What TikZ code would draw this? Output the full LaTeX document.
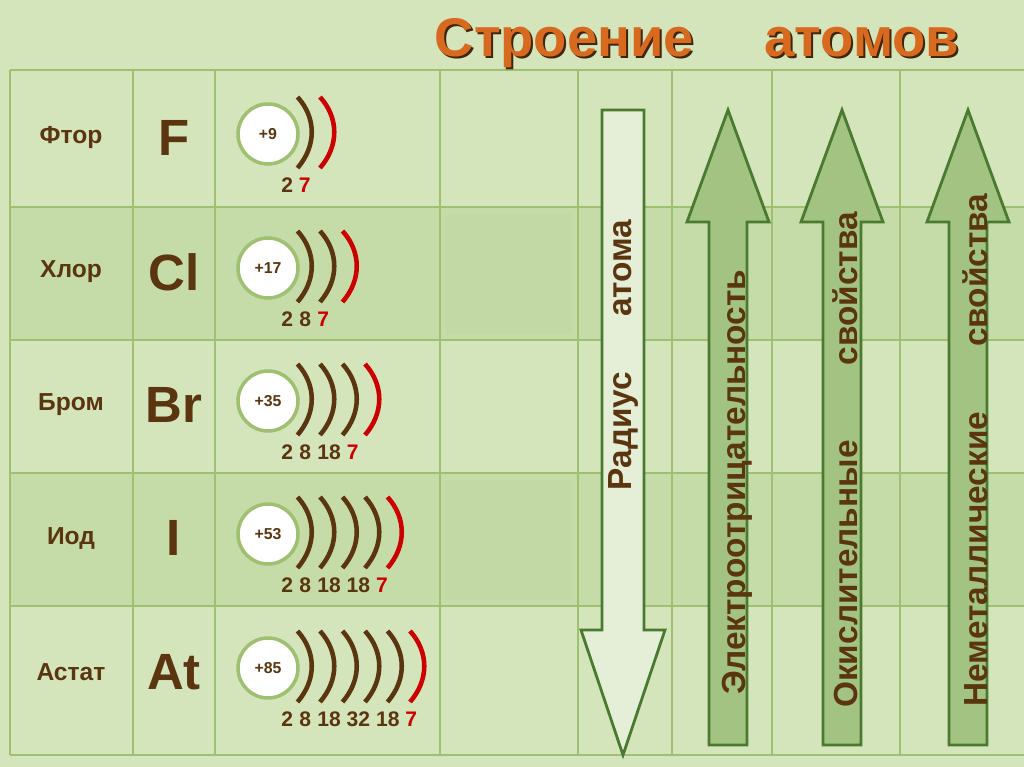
\documentclass[tikz,border=0pt]{standalone}
\usepackage{fontspec}
\setmainfont{Liberation Sans}
\usetikzlibrary{positioning}

\definecolor{bg}{HTML}{D4E5BC}
\definecolor{bgdark}{HTML}{C6DCA8}
\definecolor{gridline}{HTML}{9EC070}
\definecolor{brownish}{HTML}{5A3510}
\definecolor{redshell}{HTML}{CC0000}
\definecolor{arrowfill}{HTML}{A3C383}
\definecolor{arrowdraw}{HTML}{4A7A30}
\definecolor{titleorange}{HTML}{D86A20}

\tikzset{elname/.style =
        {
            font=\bfseries\fontsize{14}{16}\selectfont,
            text=brownish
        }
}

\tikzset{elsymbol/.style =
        {
            font=\bfseries\fontsize{29}{32}\selectfont,
            text=brownish
        }
}

\tikzset{nucleus/.style =
        {
            circle,
            minimum size=1.2cm,
            fill=white,
            draw=gridline,
            line width=2pt,
            font=\bfseries\fontsize{9}{10}\selectfont,
            text=brownish
        }
}

\tikzset{shell/.style = {line width=2.6pt, brownish}}
\tikzset{outer shell/.style = {shell, redshell}}
\tikzset{shellnums/.style = {anchor=west, inner sep=0pt, font=\bfseries\fontsize{12}{14}\selectfont, text=brownish}}
\tikzset{arrowbody/.style = {fill=arrowfill, draw=arrowdraw, line width=1.6pt}}
\tikzset{arrowtext/.style = {rotate=90, font=\bfseries\fontsize{19}{22}\selectfont, text=brownish}}

\begin{document}
\begin{tikzpicture}[x=0.02cm, y=-0.02cm]
		\fill[bg] (0,0) rectangle (1024,767);
		\useasboundingbox (0,0) rectangle (1024,767);
		\fill[bgdark] (10,207) rectangle (1024,340);
		\fill[bgdark] (10,473) rectangle (1024,606);
		\fill[bgdark!90!black!20!bgdark] (446,214) rectangle (572,334);
		\fill[bgdark!90!black!20!bgdark] (446,480) rectangle (572,600);

		% grid
		\foreach \y in {70,207,340,473,606,755}
		\draw[gridline, line width=1.2pt] (10,\y) -- (1024,\y);
		\foreach \x in {10,133,215,440,578,672,772,900}
		\draw[gridline, line width=1.2pt] (\x,70) -- (\x,755);

		% title
		\node[font=\bfseries\fontsize{31}{34}\selectfont, text=brownish!70!black] at (699,45) {Строение\hspace{1.4cm}атомов};
		\node[font=\bfseries\fontsize{31}{34}\selectfont, text=titleorange] (title) at (697,43) {Строение\hspace{1.4cm}атомов};

		% rows
		\foreach \nm/\sy/\z/\y/\n/\nums in
			{Фтор/F/+9/138/2/{2 \textcolor{redshell}{7}},
				Хлор/Cl/+17/272/3/{2\hspace{0.3em}8\hspace{0.3em}\textcolor{redshell}{7}},
				Бром/Br/+35/405/4/{2\hspace{0.3em}8\hspace{0.3em}18 \textcolor{redshell}{7}},
				Иод/I/+53/538/5/{2\hspace{0.3em}8\hspace{0.3em}18 18 \textcolor{redshell}{7}},
				Астат/At/+85/672/6/{2\hspace{0.3em}8\hspace{0.3em}18 32 18 \textcolor{redshell}{7}}}
		{
			\node[elname] (name-\sy) at (71,\y) {\nm};
			\node[elsymbol] (sym-\sy) at (174,\y) {\sy};
			\node[nucleus] (nuc-\sy) at (268,\y-4) {\z};
			\foreach \i in {1,...,\n} {
				\pgfmathsetmacro{\xs}{284+22.5*\i}
				\ifnum\i=\n
					\draw[outer shell] (\xs-9,\y-41) .. controls (\xs+10,\y-20) and (\xs+10,\y+8) .. (\xs-9,\y+30);
				\else
					\draw[shell] (\xs-9,\y-41) .. controls (\xs+10,\y-20) and (\xs+10,\y+8) .. (\xs-9,\y+30);
				\fi
			}
			\node[shellnums] (nums-\sy) at (281,\y+47) {\nums};
		}

		% arrows
		\draw[arrowbody, fill=bg!60!white] (602,110) -- (644,110) -- (644,630) -- (665,630) -- (623,755) -- (581,630) -- (602,630) -- cycle;
		\foreach \xc in {728,842,968}
		\draw[arrowbody] (\xc-19,745) -- (\xc-19,222) -- (\xc-41,222) -- (\xc,110) -- (\xc+41,222) -- (\xc+19,222) -- (\xc+19,745) -- cycle;

		\node[arrowtext] (rad) at (623,355) {Радиус\hspace{1.1cm}атома};
		\node[arrowtext] (eneg) at (737,482) {Электроотрицательность};
		\node[arrowtext] (ox) at (845,460) {Окислительные\hspace{1.5cm}свойства};
		\node[arrowtext] (nonmet) at (975,450) {Неметаллические\hspace{1.3cm}свойства};
	\end{tikzpicture}
\end{document}
